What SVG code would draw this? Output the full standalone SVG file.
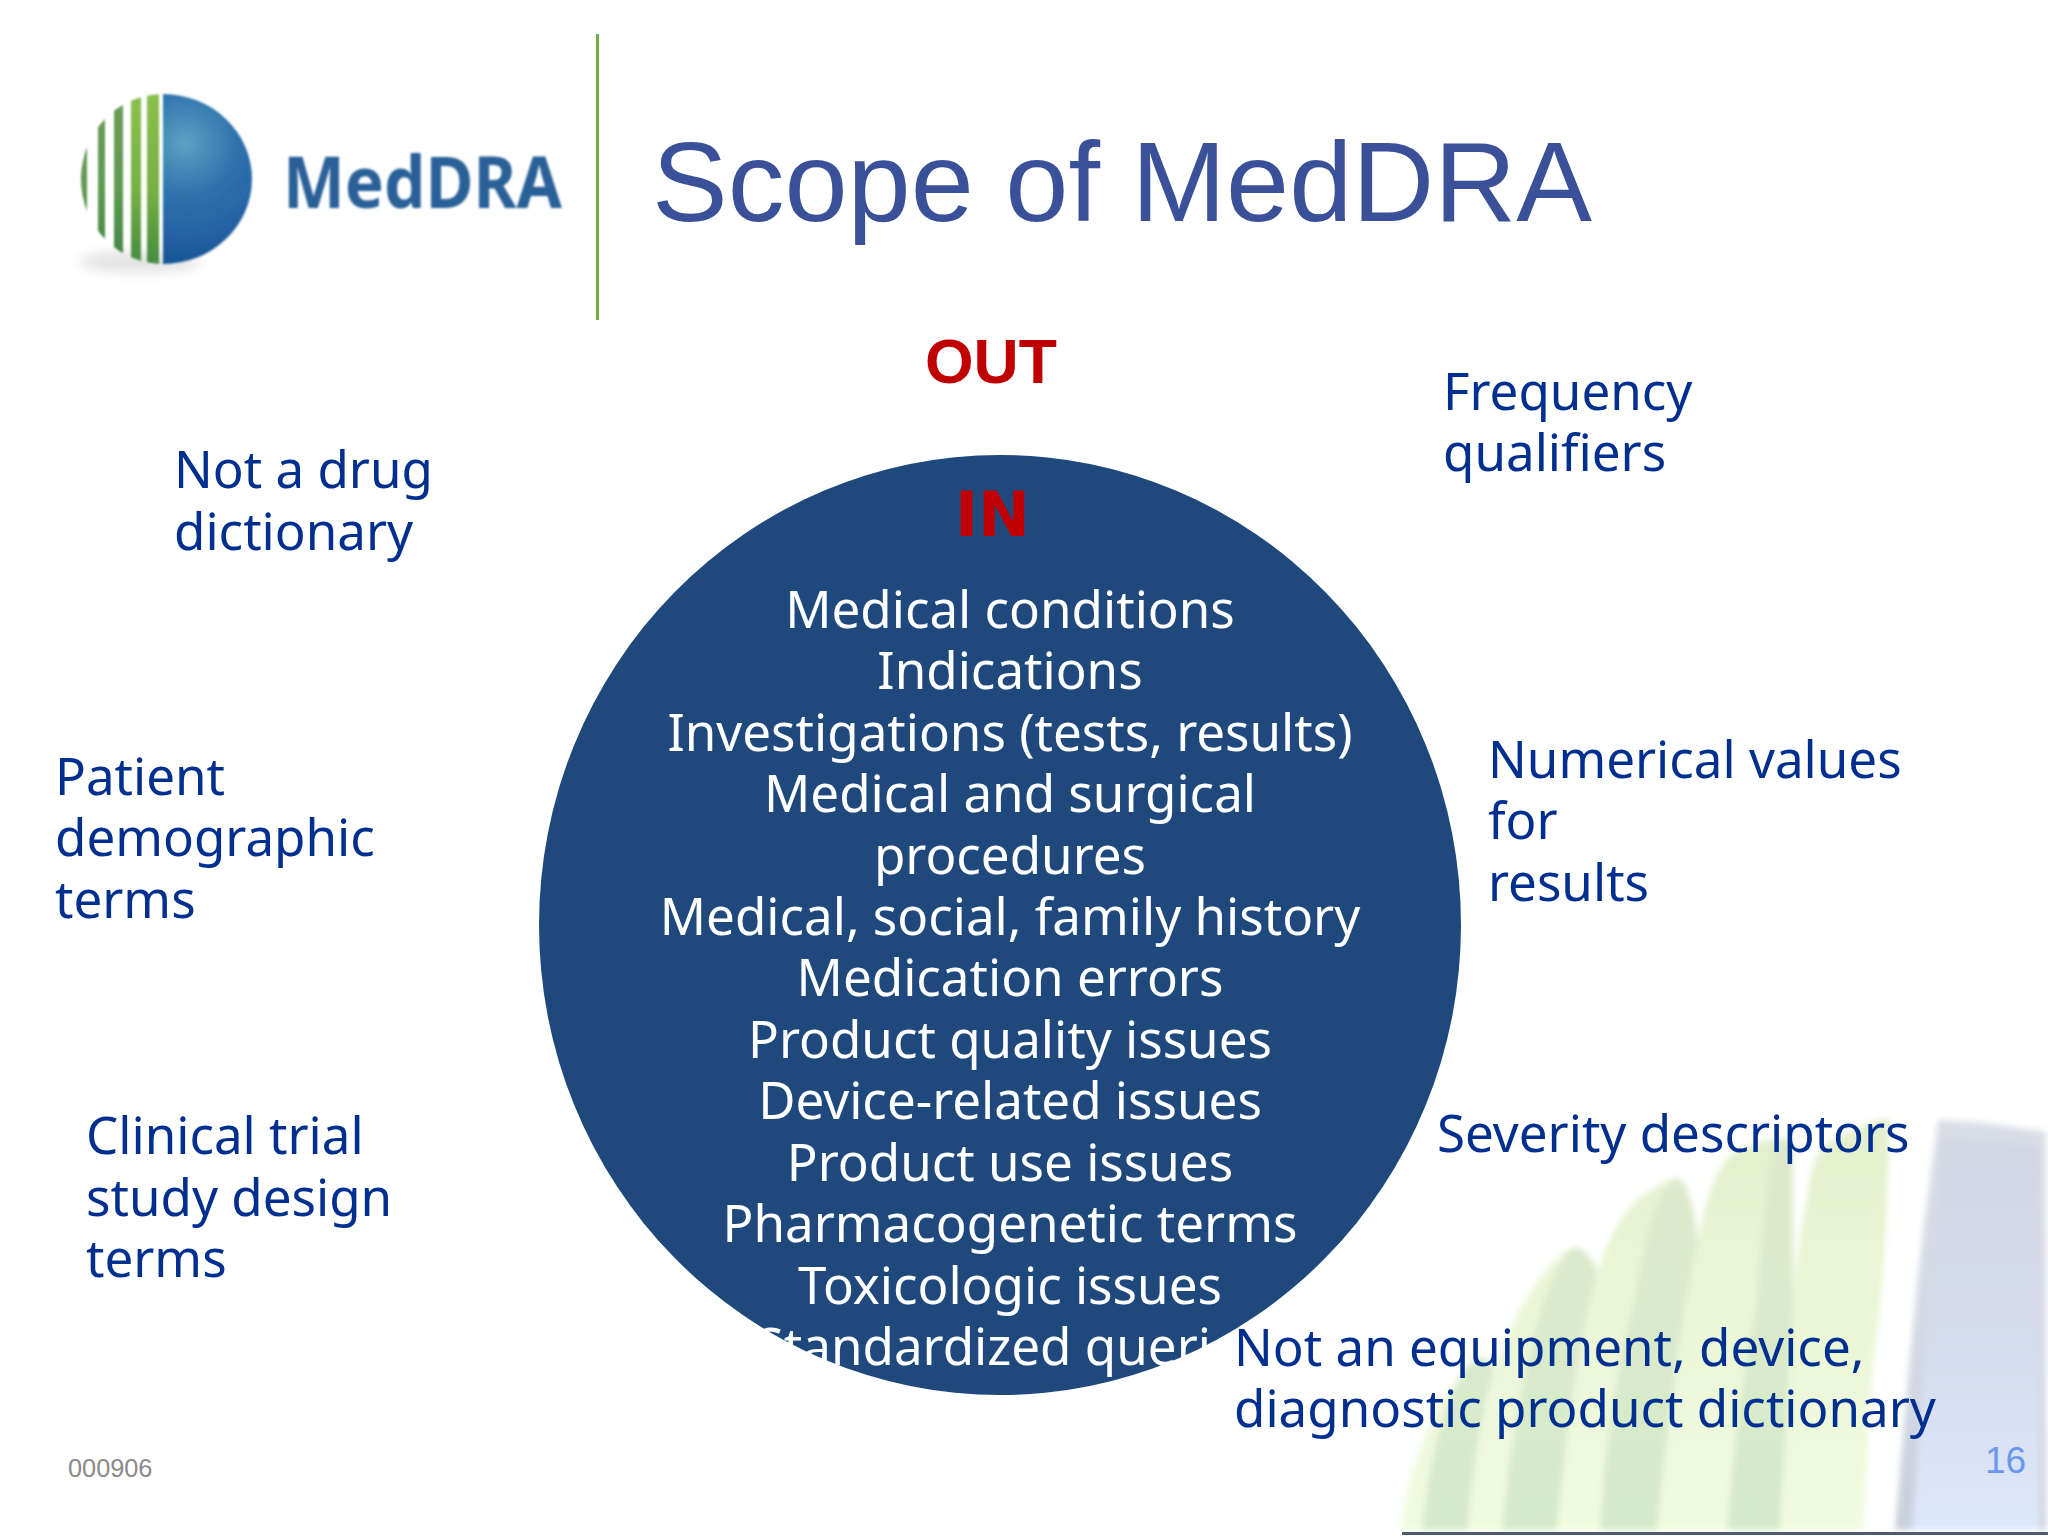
<svg xmlns="http://www.w3.org/2000/svg" width="2048" height="1536" viewBox="0 0 2048 1536">
<style>
.t{font-family:"Noto Sans","Open Sans",sans-serif;font-size:51.1px;fill:#002f8f}
.c{font-family:"Noto Sans","Open Sans",sans-serif;font-size:51.1px;fill:#fff;text-anchor:middle}
.a{font-family:"Liberation Sans",Arial,sans-serif}
.lite{fill:url(#fin)}
.dark{fill:url(#findk)}
</style>
<defs>
<radialGradient id="sph" gradientUnits="userSpaceOnUse" cx="185" cy="143" r="128"><stop offset="0" stop-color="#5da2c2"/><stop offset="0.4" stop-color="#2f73ae"/><stop offset="0.75" stop-color="#2560a3"/><stop offset="1" stop-color="#12528f"/></radialGradient>
<linearGradient id="gr" x1="0" y1="0" x2="0" y2="1"><stop offset="0" stop-color="#8cc04f"/><stop offset="0.55" stop-color="#78b044"/><stop offset="1" stop-color="#3f8a3f"/></linearGradient>
<linearGradient id="gr2" x1="0" y1="0" x2="0" y2="1"><stop offset="0" stop-color="#6f9a5c"/><stop offset="0.55" stop-color="#5f9a50"/><stop offset="1" stop-color="#3f8248"/></linearGradient>
<linearGradient id="pan" x1="0" y1="0" x2="0" y2="1"><stop offset="0" stop-color="#d2d7e3"/><stop offset="0.5" stop-color="#d5dcec"/><stop offset="1" stop-color="#dde7fa"/></linearGradient>
<linearGradient id="panedge" x1="0" y1="0" x2="0" y2="1"><stop offset="0" stop-color="#d9dde5"/><stop offset="0.6" stop-color="#d2d8e4"/><stop offset="1" stop-color="#c9d0dc"/></linearGradient>
<linearGradient id="fin" x1="0" y1="1110" x2="0" y2="1530" gradientUnits="userSpaceOnUse"><stop offset="0" stop-color="#e2efcb"/><stop offset="0.4" stop-color="#eaf6d6"/><stop offset="1" stop-color="#f1fbdf"/></linearGradient>
<linearGradient id="findk" x1="0" y1="1130" x2="0" y2="1530" gradientUnits="userSpaceOnUse"><stop offset="0" stop-color="#dde9cb"/><stop offset="1" stop-color="#d5eac9"/></linearGradient>
<clipPath id="lc"><ellipse cx="163" cy="179" rx="82" ry="85"/></clipPath>
<clipPath id="rc"><ellipse cx="163" cy="179" rx="89" ry="85"/></clipPath>
<filter id="b2" x="-10%" y="-10%" width="120%" height="120%"><feGaussianBlur stdDeviation="3"/></filter>
<filter id="b1" x="-5%" y="-5%" width="110%" height="110%"><feGaussianBlur stdDeviation="0.8"/></filter>
<filter id="b8" x="-30%" y="-100%" width="160%" height="300%"><feGaussianBlur stdDeviation="7"/></filter>
</defs>
<rect width="2048" height="1536" fill="#fff"/>
<g id="backdrop" filter="url(#b2)">
<path d="M1895 1530C1905 1420 1913 1300 1930 1180L1938 1120Q1990 1122 2046 1132V1530Z" fill="url(#panedge)"/>
<path d="M1912 1530C1922 1400 1932 1260 1943 1140Q2000 1142 2040 1146V1530Z" fill="url(#pan)"/>
<path class="lite" d="M1400 1530C1410 1470 1425 1420 1460 1375C1470 1365 1476 1357 1483 1357C1488 1360 1495 1366 1495 1373C1490 1430 1480 1490 1473 1530Z"/>
<path class="dark" d="M1422 1530C1428 1470 1440 1410 1467 1367C1472 1360 1478 1357 1483 1357C1488 1360 1495 1366 1495 1373C1490 1430 1480 1490 1473 1530Z"/>
<path class="lite" d="M1468 1530C1472 1470 1480 1420 1493 1373C1505 1340 1525 1285 1565 1252C1570 1248 1575 1247 1579 1248C1590 1255 1597 1265 1597 1280C1596 1300 1591 1320 1587 1340L1557 1530Z"/>
<path class="dark" d="M1502 1530C1510 1450 1520 1390 1533 1340C1540 1310 1548 1285 1565 1256C1570 1250 1575 1247 1579 1248C1590 1255 1597 1265 1597 1280C1596 1300 1591 1320 1587 1340L1557 1530Z"/>
<path class="lite" d="M1557 1530C1565 1450 1578 1340 1597 1273C1608 1240 1620 1215 1640 1198C1655 1188 1668 1178 1677 1178C1688 1182 1697 1215 1697 1247L1677 1387L1657 1530Z"/>
<path class="dark" d="M1600 1530C1605 1440 1620 1350 1633 1307C1642 1260 1648 1225 1660 1198C1665 1188 1672 1179 1677 1178C1688 1182 1697 1215 1697 1247L1677 1387L1657 1530Z"/>
<path class="lite" d="M1657 1530C1670 1400 1685 1290 1703 1217C1710 1190 1715 1170 1733 1153C1750 1143 1770 1137 1793 1138L1793 1300C1790 1370 1785 1450 1780 1530Z"/>
<path class="dark" d="M1727 1530C1735 1430 1747 1350 1757 1300C1762 1240 1765 1190 1773 1143L1793 1140L1793 1300C1790 1370 1785 1450 1780 1530Z"/>
<path class="lite" d="M1780 1530C1785 1450 1790 1370 1793 1300C1798 1250 1802 1220 1807 1200C1810 1175 1812 1160 1825 1145C1850 1130 1870 1120 1890 1118L1887 1200C1885 1260 1880 1320 1873 1367L1863 1530Z"/>
</g>
<rect id="baseline" x="1402" y="1532" width="646" height="3" fill="#4f5b6a"/>
<g id="logo">
<ellipse cx="140" cy="262" rx="62" ry="10" fill="#000" opacity="0.12" filter="url(#b8)"/>
<g filter="url(#b1)">
<g clip-path="url(#lc)">
<rect x="78" y="90" width="9" height="180" fill="url(#gr2)"/>
<rect x="98" y="90" width="7" height="180" fill="url(#gr2)"/>
<rect x="114" y="90" width="9" height="180" fill="url(#gr2)"/>
<rect x="131" y="90" width="10" height="180" fill="url(#gr)"/>
<rect x="147" y="90" width="12" height="180" fill="url(#gr)"/>
</g>
<rect x="163" y="90" width="92" height="180" fill="url(#sph)" clip-path="url(#rc)"/>
</g>
<text x="283" y="208" font-family="Noto Sans, sans-serif" font-size="71" font-weight="bold" fill="#2a6098" textLength="279" lengthAdjust="spacingAndGlyphs" filter="url(#b1)">MedDRA</text>
</g>
<rect id="rule" x="596" y="34" width="3" height="286" fill="#70ad47"/>
<text id="title" x="652" y="221" class="a" font-size="113.5" fill="#3a5199">Scope of MedDRA</text>
<text id="out" x="925" y="383" class="a" font-size="62.5" font-weight="bold" fill="#c00000">OUT</text>
<g id="in-circle">
<ellipse cx="1000" cy="925" rx="461" ry="470" fill="#1f497d"/>
<text x="955" y="536" font-family="DejaVu Sans, sans-serif" font-size="62" font-weight="bold" fill="#c00000">IN</text>
<text class="c" x="1010" y="628">Medical conditions</text>
<text class="c" x="1010" y="689">Indications</text>
<text class="c" x="1010" y="751">Investigations (tests, results)</text>
<text class="c" x="1010" y="812">Medical and surgical</text>
<text class="c" x="1010" y="874">procedures</text>
<text class="c" x="1010" y="935">Medical, social, family history</text>
<text class="c" x="1010" y="996">Medication errors</text>
<text class="c" x="1010" y="1058">Product quality issues</text>
<text class="c" x="1010" y="1119">Device-related issues</text>
<text class="c" x="1010" y="1181">Product use issues</text>
<text class="c" x="1010" y="1242">Pharmacogenetic terms</text>
<text class="c" x="1010" y="1304">Toxicologic issues</text>
<text class="c" x="1010" y="1365">Standardized queries</text>
</g>
<g id="out-left">
<text class="t" x="174" y="488">Not a drug</text><text class="t" x="174" y="550">dictionary</text>
<text class="t" x="55" y="795">Patient</text><text class="t" x="55" y="856">demographic</text><text class="t" x="55" y="918">terms</text>
<text class="t" x="86" y="1154">Clinical trial</text><text class="t" x="86" y="1216">study design</text><text class="t" x="86" y="1277">terms</text>
</g>
<g id="out-right">
<text class="t" x="1443" y="410">Frequency</text><text class="t" x="1443" y="471">qualifiers</text>
<text class="t" x="1488" y="778">Numerical values</text><text class="t" x="1488" y="839">for</text><text class="t" x="1488" y="901">results</text>
<text class="t" x="1437" y="1152">Severity descriptors</text>
<text class="t" x="1234" y="1366">Not an equipment, device,</text><text class="t" x="1234" y="1427">diagnostic product dictionary</text>
</g>
<text id="code" x="68" y="1477" class="a" font-size="25.3" fill="#8a8a8a">000906</text>
<text id="page" x="1985" y="1473" class="a" font-size="37" fill="#6b98ee">16</text>
</svg>
